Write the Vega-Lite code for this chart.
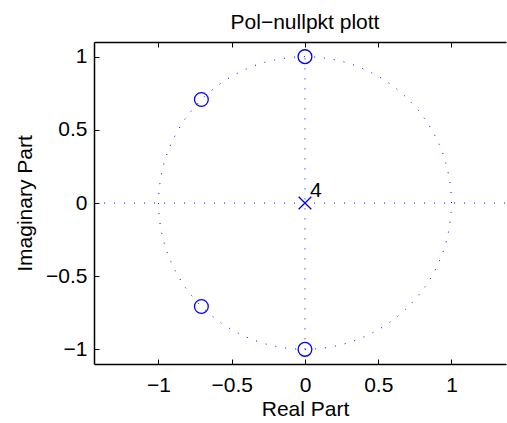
{
  "$schema": "https://vega.github.io/schema/vega-lite/v6.json",
  "width": 412,
  "height": 322,
  "autosize": {"type": "none"},
  "padding": {"left": 94, "top": 42, "right": 1, "bottom": 59},
  "title": {
    "text": "Pol−nullpkt plott",
    "font": "Liberation Sans",
    "fontSize": 21,
    "fontWeight": "normal",
    "color": "black",
    "baseline": "alphabetic",
    "offset": 15,
    "dx": 5,
    "dy": 23
  },
  "datasets": {
    "circle": [
      {"k": 0, "re": 1, "im": 0},
      {"k": 1, "re": 0.9962, "im": 0.0872},
      {"k": 2, "re": 0.9848, "im": 0.1736},
      {"k": 3, "re": 0.9659, "im": 0.2588},
      {"k": 4, "re": 0.9397, "im": 0.342},
      {"k": 5, "re": 0.9063, "im": 0.4226},
      {"k": 6, "re": 0.866, "im": 0.5},
      {"k": 7, "re": 0.8192, "im": 0.5736},
      {"k": 8, "re": 0.766, "im": 0.6428},
      {"k": 9, "re": 0.7071, "im": 0.7071},
      {"k": 10, "re": 0.6428, "im": 0.766},
      {"k": 11, "re": 0.5736, "im": 0.8192},
      {"k": 12, "re": 0.5, "im": 0.866},
      {"k": 13, "re": 0.4226, "im": 0.9063},
      {"k": 14, "re": 0.342, "im": 0.9397},
      {"k": 15, "re": 0.2588, "im": 0.9659},
      {"k": 16, "re": 0.1736, "im": 0.9848},
      {"k": 17, "re": 0.0872, "im": 0.9962},
      {"k": 18, "re": 0, "im": 1},
      {"k": 19, "re": -0.0872, "im": 0.9962},
      {"k": 20, "re": -0.1736, "im": 0.9848},
      {"k": 21, "re": -0.2588, "im": 0.9659},
      {"k": 22, "re": -0.342, "im": 0.9397},
      {"k": 23, "re": -0.4226, "im": 0.9063},
      {"k": 24, "re": -0.5, "im": 0.866},
      {"k": 25, "re": -0.5736, "im": 0.8192},
      {"k": 26, "re": -0.6428, "im": 0.766},
      {"k": 27, "re": -0.7071, "im": 0.7071},
      {"k": 28, "re": -0.766, "im": 0.6428},
      {"k": 29, "re": -0.8192, "im": 0.5736},
      {"k": 30, "re": -0.866, "im": 0.5},
      {"k": 31, "re": -0.9063, "im": 0.4226},
      {"k": 32, "re": -0.9397, "im": 0.342},
      {"k": 33, "re": -0.9659, "im": 0.2588},
      {"k": 34, "re": -0.9848, "im": 0.1736},
      {"k": 35, "re": -0.9962, "im": 0.0872},
      {"k": 36, "re": -1, "im": 0},
      {"k": 37, "re": -0.9962, "im": -0.0872},
      {"k": 38, "re": -0.9848, "im": -0.1736},
      {"k": 39, "re": -0.9659, "im": -0.2588},
      {"k": 40, "re": -0.9397, "im": -0.342},
      {"k": 41, "re": -0.9063, "im": -0.4226},
      {"k": 42, "re": -0.866, "im": -0.5},
      {"k": 43, "re": -0.8192, "im": -0.5736},
      {"k": 44, "re": -0.766, "im": -0.6428},
      {"k": 45, "re": -0.7071, "im": -0.7071},
      {"k": 46, "re": -0.6428, "im": -0.766},
      {"k": 47, "re": -0.5736, "im": -0.8192},
      {"k": 48, "re": -0.5, "im": -0.866},
      {"k": 49, "re": -0.4226, "im": -0.9063},
      {"k": 50, "re": -0.342, "im": -0.9397},
      {"k": 51, "re": -0.2588, "im": -0.9659},
      {"k": 52, "re": -0.1736, "im": -0.9848},
      {"k": 53, "re": -0.0872, "im": -0.9962},
      {"k": 54, "re": 0, "im": -1},
      {"k": 55, "re": 0.0872, "im": -0.9962},
      {"k": 56, "re": 0.1736, "im": -0.9848},
      {"k": 57, "re": 0.2588, "im": -0.9659},
      {"k": 58, "re": 0.342, "im": -0.9397},
      {"k": 59, "re": 0.4226, "im": -0.9063},
      {"k": 60, "re": 0.5, "im": -0.866},
      {"k": 61, "re": 0.5736, "im": -0.8192},
      {"k": 62, "re": 0.6428, "im": -0.766},
      {"k": 63, "re": 0.7071, "im": -0.7071},
      {"k": 64, "re": 0.766, "im": -0.6428},
      {"k": 65, "re": 0.8192, "im": -0.5736},
      {"k": 66, "re": 0.866, "im": -0.5},
      {"k": 67, "re": 0.9063, "im": -0.4226},
      {"k": 68, "re": 0.9397, "im": -0.342},
      {"k": 69, "re": 0.9659, "im": -0.2588},
      {"k": 70, "re": 0.9848, "im": -0.1736},
      {"k": 71, "re": 0.9962, "im": -0.0872},
      {"k": 72, "re": 1, "im": 0}
    ],
    "guides": [
      {"re": 0, "re2": 0, "im": -1, "im2": 1},
      {"re": -1.44, "re2": 1.372, "im": 0, "im2": 0}
    ],
    "zeros": [
      {"re": 0, "im": 1},
      {"re": 0, "im": -1},
      {"re": -0.7071, "im": 0.7071},
      {"re": -0.7071, "im": -0.7071}
    ],
    "poles": [
      {"re": 0, "im": 0, "mult": "4"}
    ]
  },
  "layer": [
    {
      "data": {"name": "circle"},
      "mark": {"type": "line", "color": "#0000ff", "strokeWidth": 1, "strokeDash": [1, 9], "clip": true},
      "encoding": {
        "x": {
          "field": "re", "type": "quantitative",
          "scale": {"domain": [-1.44, 1.372], "nice": false, "zero": false},
          "axis": {
            "orient": "bottom",
            "title": "Real Part",
            "values": [-1, -0.5, 0, 0.5, 1],
            "format": ".1~f",
            "labelPadding": 32,
            "labelBaseline": "alphabetic",
            "titleX": 211,
            "titleY": 51,
            "titleBaseline": "alphabetic",
            "titleAlign": "center"
          }
        },
        "y": {
          "field": "im", "type": "quantitative",
          "scale": {"domain": [-1.1, 1.1], "nice": false, "zero": false},
          "axis": {
            "orient": "left",
            "title": "Imaginary Part",
            "values": [-1, -0.5, 0, 0.5, 1],
            "format": ".1~f",
            "labelPadding": 12,
            "labelBaseline": "middle",
            "titleX": -63,
            "titleY": 161,
            "titleBaseline": "alphabetic",
            "titleAlign": "center"
          }
        },
        "order": {"field": "k", "type": "quantitative"}
      }
    },
    {
      "data": {"name": "guides"},
      "mark": {"type": "rule", "color": "#0000ff", "strokeWidth": 1, "strokeDash": [1, 9]},
      "encoding": {
        "x": {
          "field": "re", "type": "quantitative",
          "axis": {"orient": "top", "title": null, "labels": false, "values": [-1, -0.5, 0, 0.5, 1]}
        },
        "x2": {"field": "re2"},
        "y": {"field": "im", "type": "quantitative", "axis": null},
        "y2": {"field": "im2"}
      }
    },
    {
      "data": {"name": "zeros"},
      "mark": {"type": "point", "shape": "circle", "filled": false, "color": "#0000ff", "size": 190, "strokeWidth": 1.3, "opacity": 1},
      "encoding": {
        "x": {"field": "re", "type": "quantitative", "axis": null},
        "y": {"field": "im", "type": "quantitative", "axis": null}
      }
    },
    {
      "data": {"name": "poles"},
      "mark": {"type": "point", "shape": "M-1,-1L1,1M1,-1L-1,1", "filled": false, "color": "#0000ff", "size": 160, "strokeWidth": 1.3, "opacity": 1},
      "encoding": {
        "x": {"field": "re", "type": "quantitative", "axis": null},
        "y": {"field": "im", "type": "quantitative", "axis": null}
      }
    },
    {
      "data": {"name": "poles"},
      "mark": {"type": "text", "align": "left", "baseline": "alphabetic", "dx": 5, "dy": -6, "font": "Liberation Sans", "fontSize": 21, "color": "black"},
      "encoding": {
        "x": {"field": "re", "type": "quantitative", "axis": null},
        "y": {"field": "im", "type": "quantitative", "axis": null},
        "text": {"field": "mult"}
      }
    }
  ],
  "resolve": {"axis": {"x": "independent", "y": "independent"}},
  "config": {
    "view": {"stroke": null},
    "axis": {
      "grid": false,
      "domainColor": "black",
      "domainWidth": 1.5,
      "tickColor": "black",
      "tickSize": -5,
      "tickWidth": 1,
      "labelFont": "Liberation Sans",
      "labelFontSize": 21,
      "labelColor": "black",
      "titleFont": "Liberation Sans",
      "titleFontSize": 21,
      "titleFontWeight": "normal",
      "titleColor": "black"
    }
  }
}
